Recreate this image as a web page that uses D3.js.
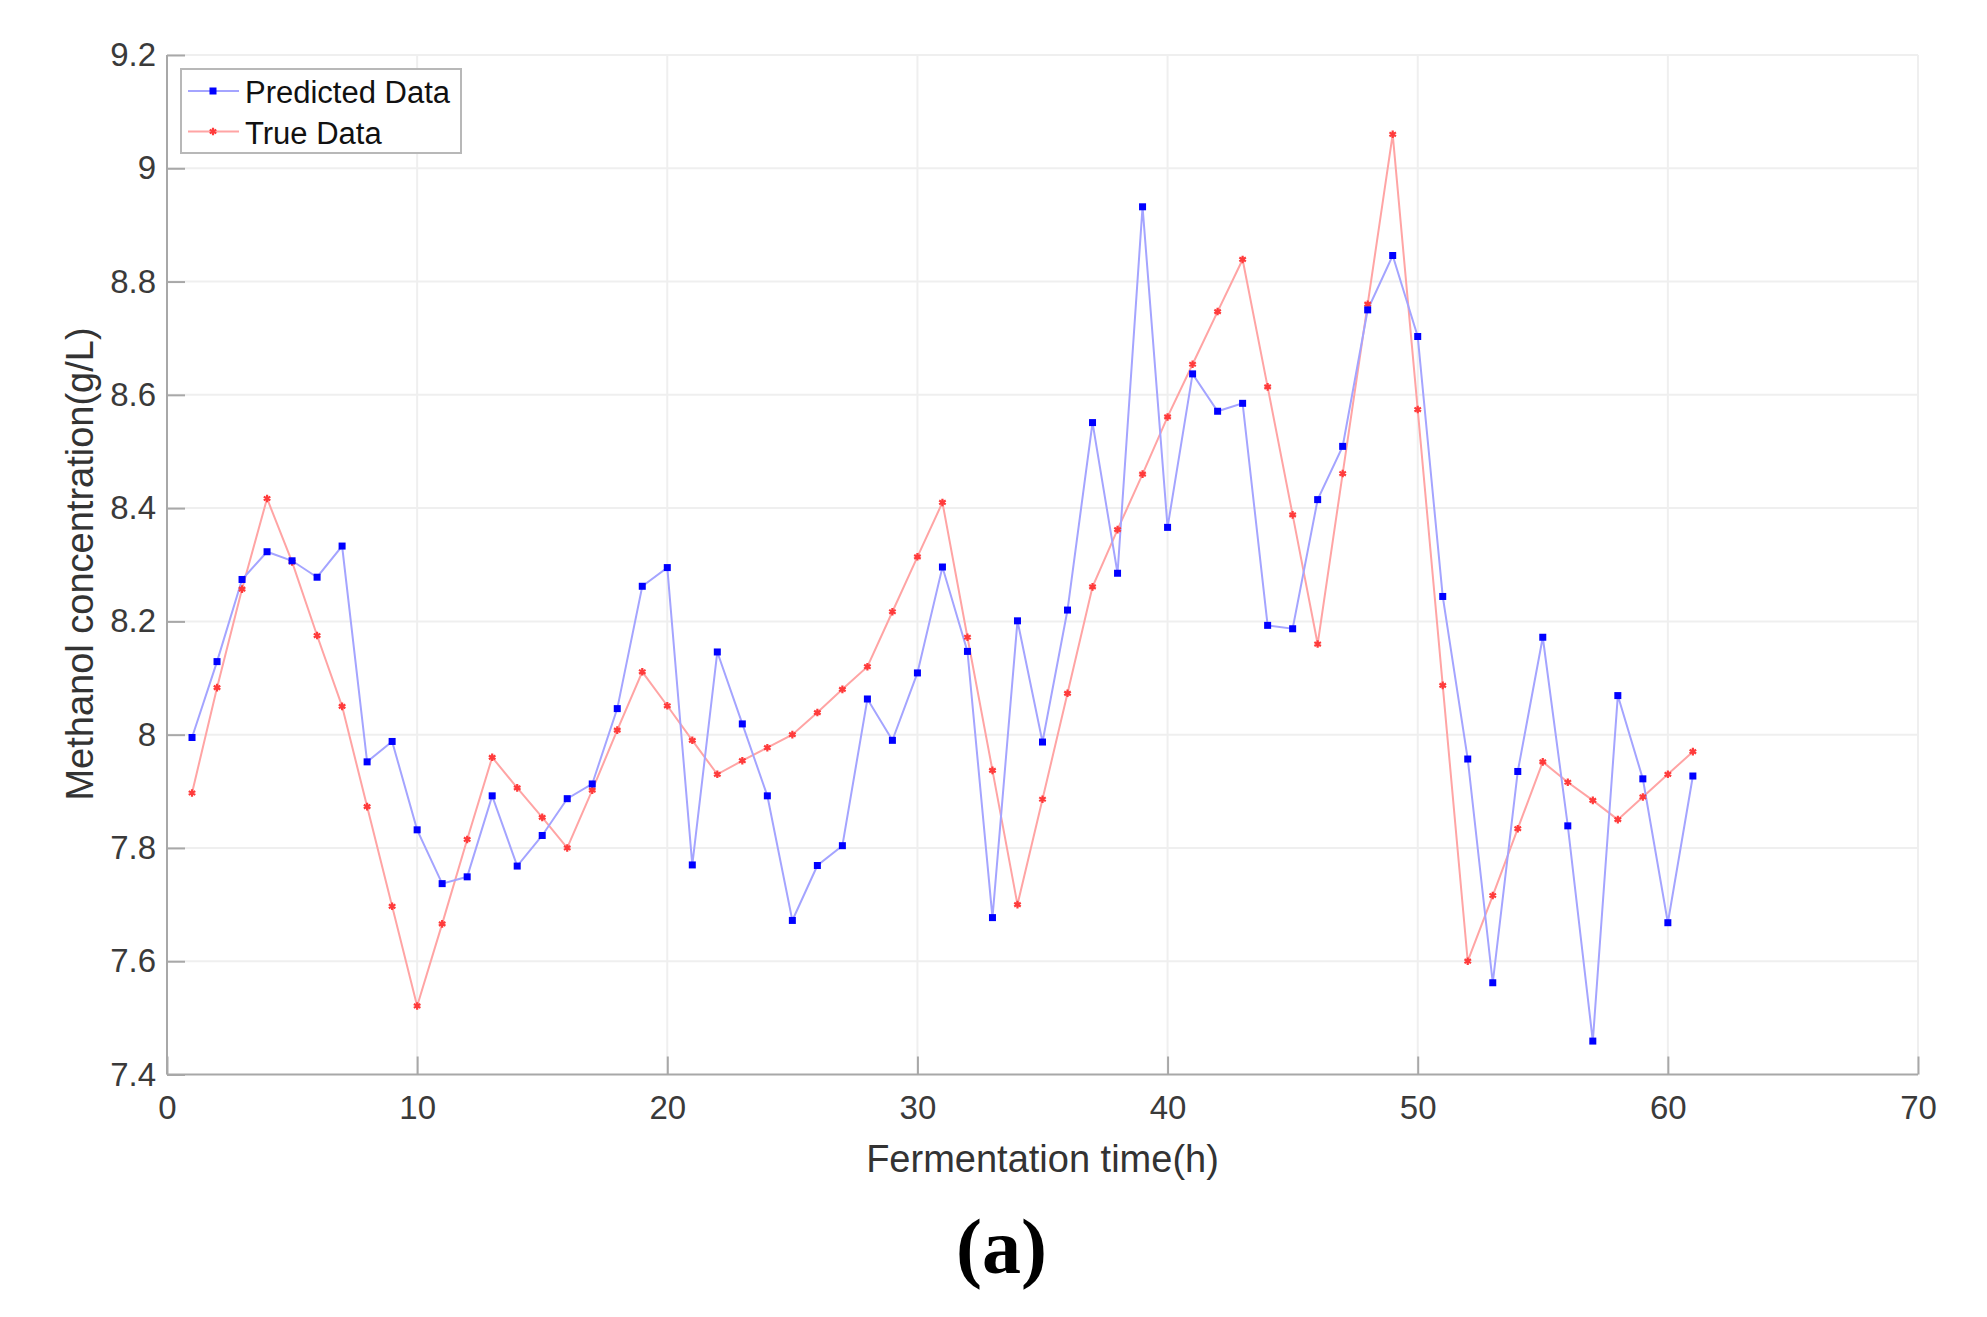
<!DOCTYPE html>
<html>
<head>
<meta charset="utf-8">
<script src="https://cdn.jsdelivr.net/npm/d3@7"></script>
<style>
  html, body { margin: 0; padding: 0; background: #ffffff; }
  svg { display: block; }
</style>
</head>
<body>
<svg id="chart" width="1987" height="1317"></svg>
<script>
const hours = d3.range(1, 62);
const predicted = [7.995, 8.129, 8.274, 8.323, 8.307, 8.278, 8.333, 7.952, 7.988, 7.832,
  7.737, 7.749, 7.892, 7.768, 7.822, 7.887, 7.913, 8.046, 8.262, 8.295,
  7.770, 8.146, 8.019, 7.892, 7.672, 7.769, 7.804, 8.063, 7.990, 8.109,
  8.296, 8.147, 7.677, 8.201, 7.987, 8.220, 8.551, 8.285, 8.932, 8.366,
  8.637, 8.571, 8.585, 8.193, 8.187, 8.415, 8.509, 8.750, 8.846, 8.703,
  8.244, 7.957, 7.562, 7.935, 8.172, 7.839, 7.459, 8.069, 7.922, 7.668, 7.927];
const trueData = [7.897, 8.083, 8.257, 8.417, 8.305, 8.175, 8.050, 7.873, 7.697, 7.521,
  7.666, 7.815, 7.960, 7.906, 7.854, 7.800, 7.902, 8.008, 8.111, 8.051,
  7.990, 7.930, 7.954, 7.977, 8.000, 8.039, 8.080, 8.120, 8.217, 8.314,
  8.410, 8.172, 7.937, 7.700, 7.886, 8.073, 8.261, 8.362, 8.460, 8.561,
  8.654, 8.747, 8.839, 8.614, 8.388, 8.160, 8.461, 8.760, 9.060, 8.574,
  8.087, 7.600, 7.716, 7.834, 7.952, 7.916, 7.884, 7.850, 7.890, 7.930, 7.970];
const xTicks = [0, 10, 20, 30, 40, 50, 60, 70];
const yTicks = [7.4, 7.6, 7.8, 8.0, 8.2, 8.4, 8.6, 8.8, 9.0, 9.2];
const yTickLabels = ["7.4", "7.6", "7.8", "8", "8.2", "8.4", "8.6", "8.8", "9", "9.2"];
const seriesNames = ["Predicted Data", "True Data"];
const xLabel = "Fermentation time(h)";
const yLabel = "Methanol concentration(g/L)";
const panelLabel = "(a)";

const svg = d3.select("#chart");
const L = 167, R = 1918, T = 55, B = 1074.5;
const x = d3.scaleLinear().domain([0, 70]).range([L, R]);
const y = d3.scaleLinear().domain([7.4, 9.2]).range([B, T]);
const font = "'Liberation Sans', Arial, Helvetica, sans-serif";

// grid
const grid = svg.append("g");
grid.selectAll("line.v").data(xTicks.slice(1)).enter().append("line")
  .attr("x1", d => x(d)).attr("x2", d => x(d)).attr("y1", T).attr("y2", B)
  .attr("stroke", "#efefef").attr("stroke-width", 2);
grid.selectAll("line.h").data(yTicks.slice(1)).enter().append("line")
  .attr("x1", L).attr("x2", R).attr("y1", d => y(d)).attr("y2", d => y(d))
  .attr("stroke", "#efefef").attr("stroke-width", 2);

// axes (ticks inward)
const xAxis = d3.axisBottom(x).tickValues(xTicks).tickSize(-18).tickPadding(21).tickFormat(d3.format("d"));
const gx = svg.append("g").attr("transform", `translate(0,${B})`).call(xAxis);
const yAxis = d3.axisLeft(y).tickValues(yTicks).tickSize(-18).tickPadding(11)
  .tickFormat((d, i) => yTickLabels[i]);
const gy = svg.append("g").attr("transform", `translate(${L},0)`).call(yAxis);
[gx, gy].forEach(g => {
  g.select(".domain").attr("stroke", "#a8a8a8").attr("stroke-width", 2);
  g.selectAll(".tick line").attr("stroke", "#a8a8a8").attr("stroke-width", 2);
  g.selectAll(".tick text").attr("fill", "#3a3a3a").style("font-family", font).style("font-size", "33px");
});
gx.select(".domain").attr("d", `M${L},0H${R}`);
gy.select(".domain").attr("d", `M0,${B}V${T}`);

// lines
const line = d3.line().x((d, i) => x(hours[i])).y(d => y(d));
svg.append("path").datum(trueData).attr("d", line)
  .attr("fill", "none").attr("stroke", "#ffa4a4").attr("stroke-width", 2);
svg.append("path").datum(predicted).attr("d", line)
  .attr("fill", "none").attr("stroke", "#a4a4ff").attr("stroke-width", 2);

// markers
svg.append("g").selectAll("path").data(trueData).enter().append("path")
  .attr("transform", (d, i) => `translate(${x(hours[i])},${y(d)})`)
  .attr("d", d3.symbol(d3.symbolAsterisk, 40))
  .attr("stroke", "#ff3b3b").attr("stroke-width", 2.2).attr("fill", "none");
svg.append("g").selectAll("rect").data(predicted).enter().append("rect")
  .attr("x", (d, i) => x(hours[i]) - 3.5).attr("y", d => y(d) - 3.5)
  .attr("width", 7).attr("height", 7).attr("fill", "#0000ff");

// legend
const lg = svg.append("g");
lg.append("rect").attr("x", 181).attr("y", 69).attr("width", 280).attr("height", 84)
  .attr("fill", "#fff").attr("stroke", "#b8b8b8").attr("stroke-width", 2);
const legY = [91, 131.5];
const legColors = ["#a4a4ff", "#ffa4a4"];
seriesNames.forEach((name, i) => {
  lg.append("line").attr("x1", 188).attr("x2", 239).attr("y1", legY[i]).attr("y2", legY[i])
    .attr("stroke", legColors[i]).attr("stroke-width", 2);
  if (i === 0) {
    lg.append("rect").attr("x", 213 - 3.5).attr("y", legY[i] - 3.5).attr("width", 7).attr("height", 7).attr("fill", "#0000ff");
  } else {
    lg.append("path").attr("transform", `translate(213,${legY[i]})`)
      .attr("d", d3.symbol(d3.symbolAsterisk, 40)).attr("stroke", "#ff3b3b").attr("stroke-width", 2.2).attr("fill", "none");
  }
  lg.append("text").attr("x", 245).attr("y", legY[i] + 12).text(name)
    .attr("fill", "#111").style("font-family", font).style("font-size", "31px");
});

// axis labels
svg.append("text").attr("x", 1042.5).attr("y", 1172).attr("text-anchor", "middle")
  .text(xLabel).attr("fill", "#333").style("font-family", font).style("font-size", "38px");
svg.append("text").attr("transform", "translate(93,564) rotate(-90)").attr("text-anchor", "middle")
  .text(yLabel).attr("fill", "#333").style("font-family", font).style("font-size", "38px");

// panel label
svg.append("text").attr("x", 1001.5).attr("y", 1273).attr("text-anchor", "middle")
  .text(panelLabel).attr("fill", "#000")
  .style("font-family", "'Liberation Serif', 'Times New Roman', serif")
  .style("font-weight", "bold").style("font-size", "78px");
</script>
</body>
</html>
